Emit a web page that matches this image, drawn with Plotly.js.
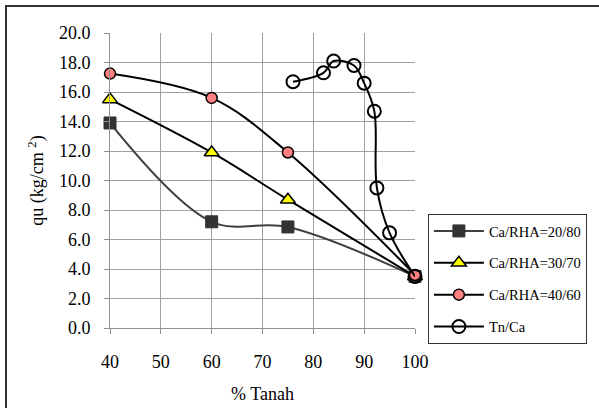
<!DOCTYPE html>
<html><head><meta charset="utf-8">
<script src="https://cdn.plot.ly/plotly-3.0.1.min.js"></script>
<style>
html,body{margin:0;padding:0;background:#fff;overflow:hidden;width:599px;height:408px}
#wrap{position:relative;width:599px;height:408px;overflow:hidden}
#chart{width:599px;height:408px}
#ftop{position:absolute;left:5px;top:5px;width:594px;height:2px;background:#333;pointer-events:none}
#fleft{position:absolute;left:5px;top:5px;width:2px;height:403px;background:#333;pointer-events:none}
</style>
</head><body><div id="wrap"><div id="chart"></div><div id="ftop"></div><div id="fleft"></div></div>
<script>
var names = ["Ca/RHA=20/80", "Ca/RHA=30/70", "Ca/RHA=40/60", "Tn/Ca"];
var x2080 = [40, 60, 75, 100];
var y2080 = [13.9, 7.2, 6.85, 3.5];
var x3070 = [40, 60, 75, 100];
var y3070 = [15.5, 11.9, 8.7, 3.5];
var x4060 = [40, 60, 75, 100];
var y4060 = [17.25, 15.6, 11.9, 3.6];
var xTn = [76, 82, 84, 88, 90, 92, 92.5, 95, 100];
var yTn = [16.7, 17.3, 18.1, 17.8, 16.6, 14.7, 9.5, 6.45, 3.5];
var xTicks = [40, 50, 60, 70, 80, 90, 100];
var yTicks = [0, 2, 4, 6, 8, 10, 12, 14, 16, 18, 20];

var FONT = "Liberation Serif";
var traces = [
  {x: x2080, y: y2080, name: names[0], legendgroup: "a", mode: "lines+markers", cliponaxis: false,
   line: {color: "#404040", width: 2, shape: "spline", smoothing: 1},
   marker: {symbol: "square", size: 12, color: "#333333", line: {color: "#333333", width: 1}}},
  {x: x3070, y: y3070, name: names[1], legendgroup: "b", mode: "lines+markers", cliponaxis: false,
   line: {color: "#000000", width: 2, shape: "spline", smoothing: 1},
   marker: {symbol: "triangle-up", size: 13, color: "#ffff00", line: {color: "#000000", width: 1.5}}},
  {x: x4060, y: y4060, name: names[2], legendgroup: "c", mode: "lines+markers", cliponaxis: false,
   line: {color: "#000000", width: 2, shape: "spline", smoothing: 1},
   marker: {symbol: "circle", size: 11, color: "#ff8080", line: {color: "#000000", width: 1.5}}},
  {x: xTn, y: yTn, name: names[3], legendgroup: "d", mode: "lines+markers", cliponaxis: false,
   line: {color: "#000000", width: 2, shape: "spline", smoothing: 1},
   marker: {symbol: "circle-open", size: 13, color: "#000000", line: {color: "#000000", width: 2}}}
];

var layout = {
  width: 599, height: 408,
  margin: {l: 110, r: 182, t: 33, b: 80, pad: 0},
  paper_bgcolor: "#ffffff", plot_bgcolor: "#ffffff",
  font: {family: FONT, color: "#000000", size: 17},
  showlegend: true,
  legend: {x: 1.0423, y: 0.3864, xanchor: "left", yanchor: "top",
    bordercolor: "#333333", borderwidth: 1, bgcolor: "#ffffff", itemwidth: 50,
    font: {family: FONT, size: 14.5, color: "#000000"}, tracegroupgap: 10},
  xaxis: {range: [40, 100], tickvals: xTicks, ticktext: xTicks.map(String),
    showgrid: true, gridcolor: "#a0a0a0", gridwidth: 1,
    zeroline: false, showline: true, linecolor: "#909090", linewidth: 1,
    ticks: "outside", ticklen: 5, tickcolor: "#909090", ticklabelstandoff: 12,
    tickfont: {family: FONT, size: 18, color: "#000000"},
    title: {text: "% Tanah", font: {family: FONT, size: 18, color: "#000000"}, standoff: 16}},
  yaxis: {range: [0, 20], tickvals: yTicks, ticktext: yTicks.map(function(v){return v.toFixed(1);}),
    showgrid: true, gridcolor: "#a0a0a0", gridwidth: 1,
    zeroline: false, showline: true, linecolor: "#909090", linewidth: 1,
    ticks: "outside", ticklen: 5, tickcolor: "#909090", ticklabelstandoff: 10,
    tickfont: {family: FONT, size: 18, color: "#000000"},
    title: {text: "qu (kg/cm <sup>2</sup>)", font: {family: FONT, size: 18, color: "#000000"}, standoff: 10}}
};

Plotly.newPlot("chart", traces, layout, {displayModeBar: false, staticPlot: true});
</script></body></html>
